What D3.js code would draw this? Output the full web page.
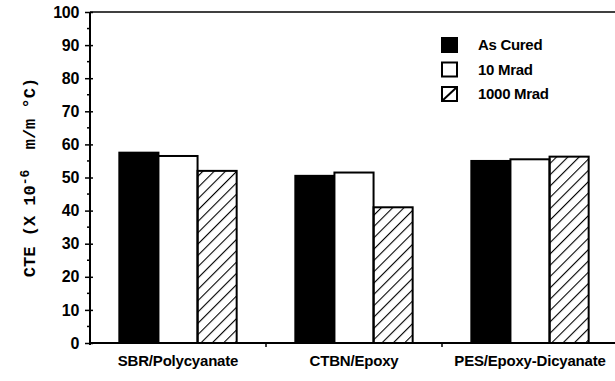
<!DOCTYPE html>
<html>
<head>
<meta charset="utf-8">
<script src="https://cdn.jsdelivr.net/npm/d3@7"></script>
<style>
  body { margin: 0; background: #fff; }
  svg text { font-family: "Liberation Sans", Arial, sans-serif; font-weight: bold; fill: #000; }
</style>
</head>
<body>
<div id="chart"></div>
<script>
// Data
const categories = ["SBR/Polycyanate", "CTBN/Epoxy", "PES/Epoxy-Dicyanate"];
const series = ["As Cured", "10 Mrad", "1000 Mrad"];
const asCured = [57.5, 50.5, 55];
const mrad10 = [56.5, 51.5, 55.5];
const mrad1000 = [52, 41, 56.3];
const yTicks = [0, 10, 20, 30, 40, 50, 60, 70, 80, 90, 100];

const values = [asCured, mrad10, mrad1000];

const W = 615, H = 381;
const margin = { top: 12, right: -3, bottom: 38, left: 90 };

const svg = d3.select("#chart").append("svg")
    .attr("width", W)
    .attr("height", H);

// hatch pattern
const defs = svg.append("defs");
defs.append("pattern")
    .attr("id", "hatch")
    .attr("patternUnits", "userSpaceOnUse")
    .attr("width", 8)
    .attr("height", 8)
    .attr("patternTransform", "rotate(45)")
    .append("line")
    .attr("x1", 0).attr("y1", 0)
    .attr("x2", 0).attr("y2", 8)
    .attr("stroke", "#000")
    .attr("stroke-width", 2.2);

const fills = ["#000", "#fff", "url(#hatch)"];

const x = d3.scaleBand()
    .domain(categories)
    .range([margin.left, W - margin.right])
    .paddingInner(1 / 3)
    .paddingOuter(1 / 6);

const xs = d3.scaleBand()
    .domain(series)
    .range([0, x.bandwidth()]);

const y = d3.scaleLinear()
    .domain([0, 100])
    .range([H - margin.bottom, margin.top]);

// bars
const rows = categories.flatMap((c, i) =>
    series.map((s, j) => ({ cat: c, series: s, j: j, value: values[j][i] })));

svg.append("g")
    .selectAll("rect")
    .data(rows)
    .enter()
    .append("rect")
    .attr("x", d => x(d.cat) + xs(d.series))
    .attr("y", d => y(d.value))
    .attr("width", xs.bandwidth())
    .attr("height", d => y(0) - y(d.value))
    .attr("fill", d => fills[d.j])
    .attr("stroke", "#000")
    .attr("stroke-width", 2);

// frame: top line, left axis, bottom axis
svg.append("line")
    .attr("x1", margin.left).attr("x2", W)
    .attr("y1", y(100)).attr("y2", y(100))
    .attr("stroke", "#000").attr("stroke-width", 1.5);

svg.append("line")
    .attr("x1", 0).attr("x2", W - margin.left)
    .attr("transform", `translate(${margin.left},${y(0)})`)
    .attr("stroke", "#000").attr("stroke-width", 2);

svg.append("line")
    .attr("x1", margin.left).attr("x2", margin.left)
    .attr("y1", y(100)).attr("y2", y(0) + 2)
    .attr("stroke", "#000").attr("stroke-width", 2);

// y axis ticks
const yAxis = d3.axisLeft(y)
    .tickValues(yTicks)
    .tickSize(5)
    .tickPadding(6);

const gy = svg.append("g")
    .attr("transform", `translate(${margin.left},0)`)
    .call(yAxis);
gy.select(".domain").remove();
gy.selectAll(".tick line")
    .attr("x2", -5).attr("x1", 3)
    .attr("stroke-width", 1.5);
gy.selectAll(".tick text")
    .attr("font-family", null)
    .style("font-size", "16px")
    .style("letter-spacing", "-0.3px");

// minor ticks at the fives
const minor = d3.range(5, 100, 10);
svg.append("g")
    .selectAll("line")
    .data(minor)
    .enter()
    .append("line")
    .attr("x1", margin.left - 3).attr("x2", margin.left)
    .attr("y1", d => y(d)).attr("y2", d => y(d))
    .attr("stroke", "#000").attr("stroke-width", 1.5);

// x axis ticks between groups
const bounds = categories.slice(1).map(c => x(c) - x.step() * x.paddingInner() / 2);
svg.append("g")
    .selectAll("line")
    .data(bounds)
    .enter()
    .append("line")
    .attr("x1", d => d).attr("x2", d => d)
    .attr("y1", y(0)).attr("y2", y(0) + 4)
    .attr("stroke", "#000").attr("stroke-width", 1.5);

// x labels
svg.append("g")
    .selectAll("text")
    .data(categories)
    .enter()
    .append("text")
    .attr("x", d => x(d) + x.bandwidth() / 2)
    .attr("y", y(0) + 23)
    .attr("text-anchor", "middle")
    .style("font-size", "15px")
    .style("letter-spacing", "-0.2px")
    .text(d => d);

// y title
const title = svg.append("text")
    .attr("transform", `translate(35,${(y(0) + y(100)) / 2}) rotate(-90)`)
    .attr("text-anchor", "middle")
    .style("font-family", "'Liberation Mono', 'DejaVu Sans Mono', monospace")
    .style("font-size", "17px")
    .attr("xml:space", "preserve");
title.append("tspan").text("CTE (X 10");
title.append("tspan").attr("dy", -6).style("font-size", "13px").text("-6");
title.append("tspan").attr("dy", 6).text("  m/m \u00b0C)");

// legend
const legend = svg.append("g")
    .attr("transform", "translate(442,38)");

const li = legend.selectAll("g")
    .data(series)
    .enter()
    .append("g")
    .attr("transform", (d, i) => `translate(0,${i * 24.5})`);

li.append("rect")
    .attr("width", 15)
    .attr("height", 14)
    .attr("fill", (d, i) => i === 0 ? "#000" : "#fff")
    .attr("stroke", "#000")
    .attr("stroke-width", 2);

li.filter((d, i) => i === 2)
    .append("line")
    .attr("x1", 0).attr("y1", 14)
    .attr("x2", 15).attr("y2", 0)
    .attr("stroke", "#000").attr("stroke-width", 2);

li.append("text")
    .attr("x", 36)
    .attr("y", 12)
    .style("font-size", "15px")
    .style("letter-spacing", "-0.3px")
    .text(d => d);
</script>
</body>
</html>
